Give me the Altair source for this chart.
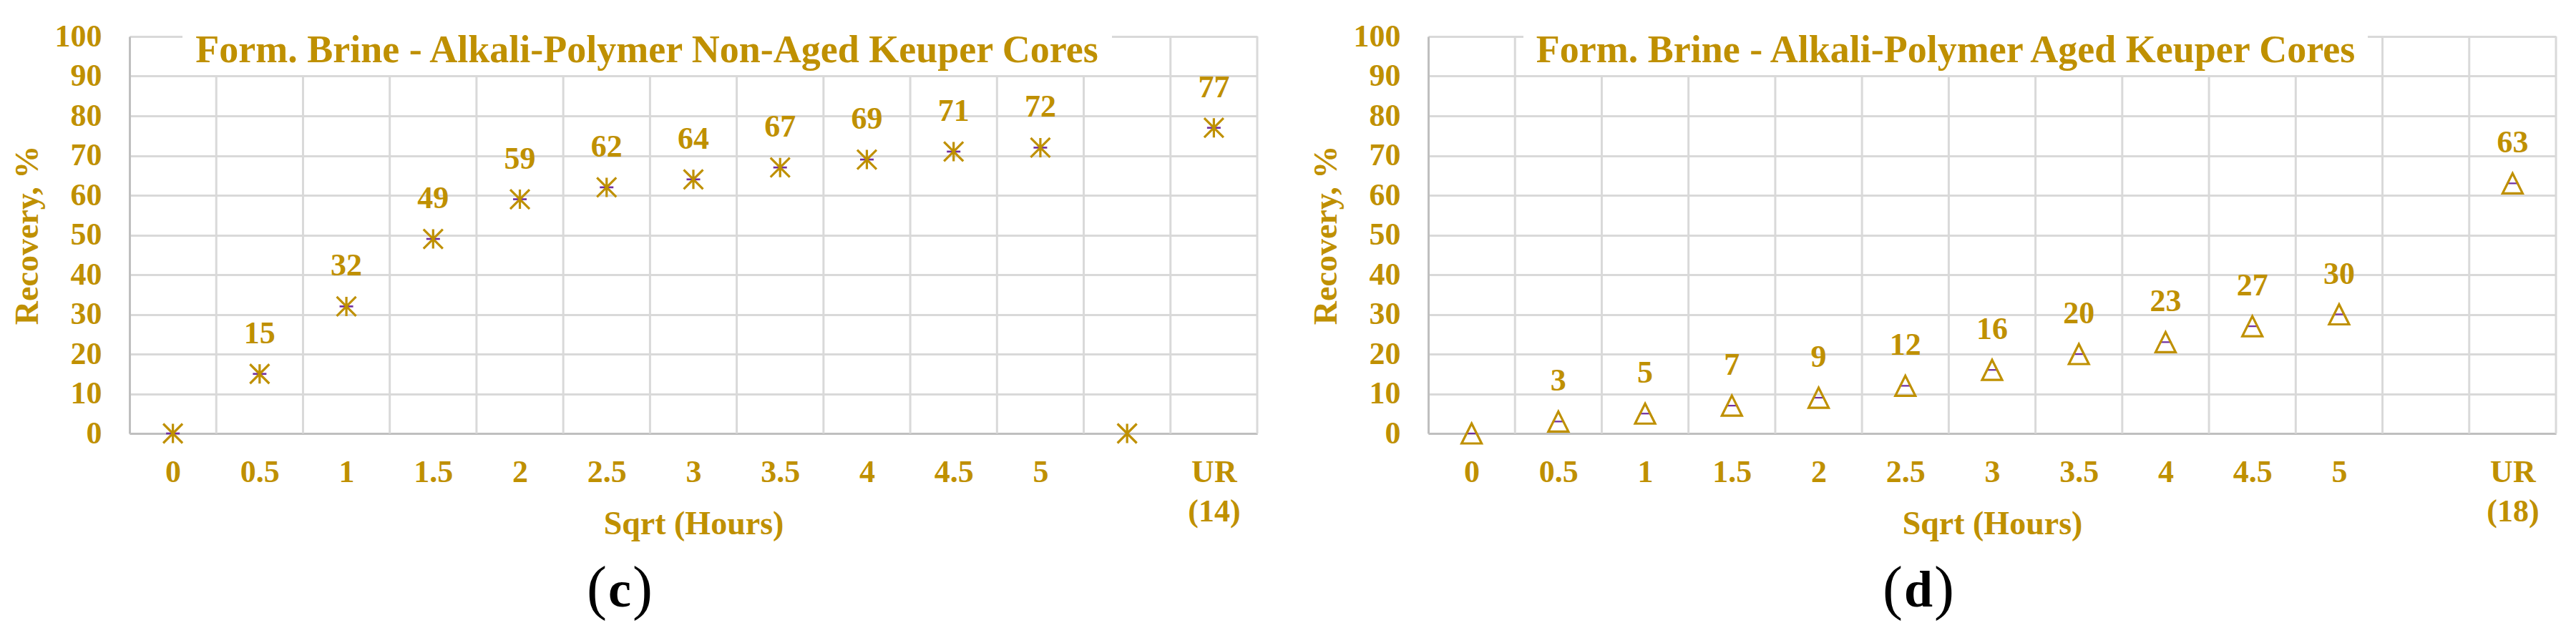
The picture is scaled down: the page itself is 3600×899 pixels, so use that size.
import json
import altair as alt
import pandas as pd

GOLD = "#BF9000"
PURPLE = "#7030A0"
GRID = "#D9D9D9"
AXIS = "#BFBFBF"
FONT = "Liberation Serif"

# ---------------- data ----------------
x_labels_c = ["0", "0.5", "1", "1.5", "2", "2.5", "3", "3.5", "4", "4.5", "5", "", "UR (14)"]
x_labels_d = ["0", "0.5", "1", "1.5", "2", "2.5", "3", "3.5", "4", "4.5", "5", "", "UR (18)"]

recovery_c = [0, 15, 32, 49, 59, 62, 64, 67, 69, 71, 72, 0, 77]
dash_c = [0, 15, 32, 49, 59, 62, 64, 67, 69, 71, 72, None, 77]
labels_c = [None, 15, 32, 49, 59, 62, 64, 67, 69, 71, 72, None, 77]

recovery_d = [0, 3, 5, 7, 9, 12, 16, 20, 23, 27, 30, None, 63]
dash_d = [0, 3, 5, 7, 9, 12, 16, 20, 23, 27, 30, None, 63]
labels_d = [None, 3, 5, 7, 9, 12, 16, 20, 23, 27, 30, None, 63]

title_c = "Form. Brine - Alkali-Polymer Non-Aged Keuper Cores"
title_d = "Form. Brine - Alkali-Polymer Aged Keuper Cores"
caption_c = "c"
caption_d = "d"

ASTERISK = "M0,-1L0,1M-1,-1L1,1M-1,1L1,-1"
TRIANGLE = "M0,-1L1,1L-1,1Z"
DASH = "M-1,-0.14L1,-0.14L1,0.14L-1,0.14Z"

W, H = 1576, 555
N = 13


def panel(xlabels, rec, dash, labs, title, box, shape, msize, dsize, cap, capw):
    df = pd.DataFrame({
        "pos": [i + 0.5 for i in range(N)],
        "rec": rec,
        "dash": dash,
        "lab": labs,
    })
    bounds = pd.DataFrame({"pos": list(range(1, N + 1))})
    xs = alt.Scale(domain=[0, N], nice=False, zero=False)
    ys = alt.Scale(domain=[0, 100], nice=False, zero=True)
    arr = json.dumps(xlabels)

    xaxis = alt.Axis(
        values=[i + 0.5 for i in range(N)],
        labelExpr=f"split({arr}[floor(datum.value)], ' ')",
        grid=False, ticks=False, tickSize=0,
        domainColor=AXIS, domainWidth=3,
        labelFont=FONT, labelFontSize=44, labelFontWeight="bold", labelColor=GOLD,
        labelBaseline="top", labelPadding=32, labelLineHeight=55, labelAngle=0,
        labelOverlap=False, labelFlush=False,
        title="Sqrt (Hours)", titleFont=FONT, titleFontSize=46, titleFontWeight="bold",
        titleColor=GOLD, titleX=W / 2, titleY=140, titleBaseline="alphabetic",
    )
    yaxis = alt.Axis(
        values=list(range(0, 101, 10)),
        grid=True, gridColor=GRID, gridWidth=3,
        ticks=False, tickSize=0,
        domainColor=AXIS, domainWidth=3,
        labelFont=FONT, labelFontSize=44, labelFontWeight="bold", labelColor=GOLD,
        labelPadding=39,
        title="Recovery, %", titleFont=FONT, titleFontSize=46, titleFontWeight="bold",
        titleColor=GOLD, titleX=-129, titleY=H / 2, titleAngle=270,
        titleBaseline="alphabetic", titleAlign="center",
    )

    def X(f):
        return alt.X(f, scale=xs, axis=xaxis)

    def Y(f):
        return alt.Y(f, scale=ys, axis=yaxis)

    vgrid = alt.Chart(bounds).mark_rule(color=GRID, strokeWidth=3).encode(
        x=X("pos:Q")
    )
    tbox = alt.Chart(pd.DataFrame({"t": [title]})).mark_rect(color="white").encode(
        x=alt.value(box[0]), x2=alt.value(box[1]), y=alt.value(-3), y2=alt.value(54)
    )
    ttext = alt.Chart(pd.DataFrame({"t": [title]})).mark_text(
        font=FONT, fontSize=54, fontWeight="bold", color=GOLD,
        align="center", baseline="alphabetic"
    ).encode(text="t:N", x=alt.value(723), y=alt.value(36))

    dashes = alt.Chart(df).transform_filter("datum.dash != null").mark_point(
        shape=DASH, filled=True, color=PURPLE, opacity=1, size=dsize, strokeWidth=0
    ).encode(x=X("pos:Q"), y=Y("dash:Q"))
    marks = alt.Chart(df).transform_filter("datum.rec != null").mark_point(
        shape=shape, filled=False, color=GOLD, opacity=1, size=msize, strokeWidth=3.2
    ).encode(x=X("pos:Q"), y=Y("rec:Q"))
    texts = alt.Chart(df).transform_filter("datum.lab != null").mark_text(
        font=FONT, fontSize=44, fontWeight="bold", color=GOLD,
        align="center", baseline="alphabetic", dy=-43
    ).encode(x=X("pos:Q"), y=Y("lab:Q"), text=alt.Text("lab:Q", format="d"))

    cx, cy = 685, 797
    half = capw / 2
    cap_l = alt.Chart(pd.DataFrame({"t": ["("]})).mark_text(
        font=FONT, fontSize=84, color="black", align="right", baseline="alphabetic"
    ).encode(text="t:N", x=alt.value(cx - half - 2), y=alt.value(cy + 2))
    cap_m = alt.Chart(pd.DataFrame({"t": [cap]})).mark_text(
        font=FONT, fontSize=72, fontWeight="bold", color="black", align="center",
        baseline="alphabetic"
    ).encode(text="t:N", x=alt.value(cx), y=alt.value(cy))
    cap_r = alt.Chart(pd.DataFrame({"t": [")"]})).mark_text(
        font=FONT, fontSize=84, color="black", align="left", baseline="alphabetic"
    ).encode(text="t:N", x=alt.value(cx + half + 2), y=alt.value(cy + 2))

    return alt.layer(
        vgrid, dashes, tbox, ttext, marks, texts, cap_l, cap_m, cap_r
    ).properties(width=W, height=H)


left = panel(x_labels_c, recovery_c, dash_c, labels_c, title_c, (74, 1373),
             ASTERISK, 729, 361, caption_c, 32)
right = panel(x_labels_d, recovery_d, dash_d, labels_d, title_d, (133, 1313),
              TRIANGLE, 784, 256, caption_d, 40)

chart = alt.hconcat(left, right, spacing=71).properties(
    padding={"left": 7, "top": 21, "right": 5, "bottom": 5},
    background="white",
).configure_view(stroke=None)

chart.save("out.html", embed_options={"renderer": "svg", "actions": False})
